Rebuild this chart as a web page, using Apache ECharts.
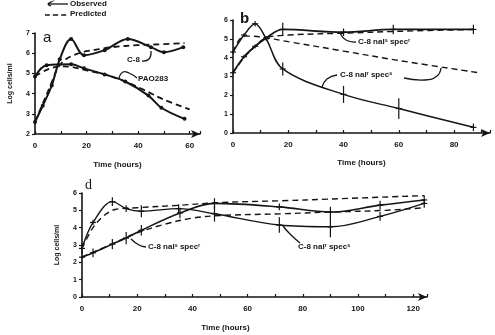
<!DOCTYPE html>
<html lang="en">
<head>
<meta charset="UTF-8">
<title>Log cells/ml vs time</title>
<script src="https://cdn.jsdelivr.net/npm/echarts@6/dist/echarts.min.js"></script>
<style>body{margin:0;background:#fff}</style>
</head>
<body>
<div id="main" style="width:495px;height:335px;"></div>
<script>
// panel a - C-8 and PAO283
const aC8ObsT = [0, 3, 6.5, 9.6, 14, 19, 27, 36, 45, 50, 57.5];
const aC8ObsV = [2.6, 3.4, 4.4, 5.7, 6.7, 5.9, 6.15, 6.7, 6.3, 6.05, 6.3];
const aC8PredT = [0, 3, 6, 9, 12, 16, 20, 25, 30, 40, 50, 58];
const aC8PredV = [2.6, 3.5, 4.4, 5.3, 5.7, 5.95, 6.1, 6.2, 6.3, 6.4, 6.45, 6.5];
const aPaoObsT = [0, 4.5, 14, 19, 27, 35, 44, 49, 58];
const aPaoObsV = [4.85, 5.4, 5.45, 5.25, 4.95, 4.6, 3.9, 3.3, 2.75];
const aPaoPredT = [0, 5, 10, 15, 20, 27, 35, 42, 50, 60];
const aPaoPredV = [4.85, 5.2, 5.35, 5.3, 5.15, 4.95, 4.6, 4.2, 3.7, 3.22];

// panel b - C-8 nal^r spec^s and nal^s spec^r
const bRsObsT = [0, 4, 8, 12, 18, 40, 60, 87];
const bRsObsV = [4.3, 5.2, 5.8, 5.0, 3.4, 2.05, 1.3, 0.3];
const bRsErr = [0.1, 0.1, 0.15, 0.1, 0.35, 0.45, 0.55, 0.2];
const bRsPredT = [0, 4, 10, 20, 40, 60, 89];
const bRsPredV = [4.3, 5.15, 5.1, 4.85, 4.35, 3.85, 3.2];
const bSrObsT = [0, 4, 8, 12, 18, 40, 58, 87];
const bSrObsV = [3.2, 4.05, 4.6, 5.05, 5.5, 5.35, 5.5, 5.5];
const bSrErr = [0.1, 0.1, 0.1, 0.1, 0.35, 0.2, 0.25, 0.25];
const bSrPredT = [0, 4, 8, 12, 20, 40, 60, 88];
const bSrPredV = [3.2, 4.0, 4.6, 5.05, 5.2, 5.3, 5.4, 5.5];

// panel d
const dRsObsT = [0, 4, 11, 16, 21.5, 35, 48, 71.5, 90, 108, 124];
const dRsObsV = [2.8, 4.3, 5.5, 5.1, 4.95, 5.1, 4.8, 4.15, 4.05, 4.65, 5.4];
const dRsErr = [0.3, 0.15, 0.25, 0.2, 0.35, 0.25, 0.45, 0.45, 0.6, 0.25, 0.25];
const dRsPredT = [0, 4, 8, 12, 20, 36, 50, 72, 90, 124];
const dRsPredV = [2.8, 4.0, 4.7, 5.05, 5.15, 5.3, 5.45, 5.55, 5.65, 5.85];
const dSrObsT = [0, 4, 11, 16, 21.5, 35.5, 48, 71.5, 90, 108, 124];
const dSrObsV = [2.3, 2.55, 3.05, 3.4, 3.85, 4.85, 5.4, 5.2, 4.9, 5.3, 5.6];
const dSrErr = [0.1, 0.25, 0.3, 0.35, 0.3, 0.3, 0.3, 0.2, 0.3, 0.25, 0.25];
const dSrPredT = [0, 10, 20, 30, 40, 50, 72, 90, 110, 124];
const dSrPredV = [2.3, 3.0, 3.7, 4.2, 4.55, 4.7, 4.8, 4.9, 5.0, 5.15];

const ink = '#151515';
const font = 'Liberation Sans';

function pts(t, v) { return t.map((x, i) => [x, v[i]]); }

function curve(t, v, idx, dashed, width, symbol) {
    return {
        type: 'line', name: dashed ? 'Predicted' : 'Observed',
        xAxisIndex: idx, yAxisIndex: idx,
        data: pts(t, v), smooth: 0.35,
        symbol: symbol || 'none', symbolSize: 4,
        itemStyle: { color: ink },
        lineStyle: { color: ink, width: width, type: dashed ? [6, 4] : 'solid' },
        z: dashed ? 2 : 3
    };
}

function errBars(t, v, e, idx) {
    return {
        type: 'custom', xAxisIndex: idx, yAxisIndex: idx,
        data: t.map((x, i) => [x, v[i], e[i]]),
        renderItem: (params, api) => {
            const top = api.coord([api.value(0), api.value(1) + api.value(2)]);
            const bot = api.coord([api.value(0), api.value(1) - api.value(2)]);
            const c = api.coord([api.value(0), api.value(1)]);
            const st = { stroke: ink, lineWidth: 1.2 };
            return { type: 'group', children: [
                { type: 'line', shape: { x1: top[0], y1: top[1], x2: bot[0], y2: bot[1] }, style: st },
                { type: 'line', shape: { x1: c[0] - 3, y1: c[1], x2: c[0] + 3, y2: c[1] }, style: st }
            ] };
        },
        z: 4
    };
}

function xAx(idx, max, nameGap, namePad) {
    return {
        type: 'value', gridIndex: idx, min: 0, max: max, interval: 10,
        name: 'Time (hours)', nameLocation: 'middle', nameGap: nameGap,
        nameTextStyle: { fontSize: 8, fontWeight: 'bold', color: ink, fontFamily: font, padding: namePad || 0 },
        axisLine: { lineStyle: { color: ink, width: 1.6 }, symbol: ['none', 'arrow'], symbolSize: [6, 9] },
        axisTick: { inside: true, length: 3, lineStyle: { color: ink, width: 1.2 } },
        axisLabel: { fontSize: 8, fontWeight: 'bold', color: ink, fontFamily: font, margin: 8,
            formatter: v => (v % 20 === 0 ? String(v) : '') },
        splitLine: { show: false }
    };
}

function yAx(idx, min, max, named) {
    return {
        type: 'value', gridIndex: idx, min: min, max: max, interval: 1,
        name: named ? 'Log cells/ml' : '', nameLocation: 'middle', nameGap: 21, nameRotate: 90,
        nameTextStyle: { fontSize: 7, fontWeight: 'bold', color: ink, fontFamily: font },
        axisLine: { lineStyle: { color: ink, width: 1.6 } },
        axisTick: { length: 3, lineStyle: { color: ink, width: 1.2 } },
        axisLabel: { fontSize: 7, fontWeight: 'bold', color: ink, fontFamily: font, margin: 5 },
        splitLine: { show: false }
    };
}

function txt(x, y, s, size, extra) {
    return { type: 'text', left: x, top: y,
        style: Object.assign({ text: s, fontSize: size || 8, fontWeight: 'bold', fill: ink, fontFamily: font }, extra || {}) };
}
function path(points, dashed) {
    return { type: 'polyline', shape: { points: points, smooth: 0.5 },
        style: { stroke: ink, lineWidth: 1.3, fill: null, lineDash: dashed ? [5, 3] : null } };
}

const option = {
    animation: false,
    backgroundColor: '#fff',
    grid: [
        { left: 35, top: 33, width: 165, height: 101 },
        { left: 233, top: 20, width: 257, height: 113 },
        { left: 82, top: 193, width: 345, height: 104 }
    ],
    xAxis: [xAx(0, 64, 27), xAx(1, 93, 26), xAx(2, 125, 27, [0, 58, 0, 0])],
    yAxis: [yAx(0, 2, 7, true), yAx(1, 0, 6, false), yAx(2, 0, 6, true)],
    series: [
        curve(aC8ObsT, aC8ObsV, 0, false, 2, 'circle'),
        curve(aC8PredT, aC8PredV, 0, true, 1.8),
        curve(aPaoObsT, aPaoObsV, 0, false, 2, 'circle'),
        curve(aPaoPredT, aPaoPredV, 0, true, 1.8),
        curve(bRsObsT, bRsObsV, 1, false, 1.5),
        curve(bRsPredT, bRsPredV, 1, true, 1.4),
        curve(bSrObsT, bSrObsV, 1, false, 1.8),
        curve(bSrPredT, bSrPredV, 1, true, 1.4),
        errBars(bRsObsT, bRsObsV, bRsErr, 1),
        errBars(bSrObsT, bSrObsV, bSrErr, 1),
        curve(dRsObsT, dRsObsV, 2, false, 1.4),
        curve(dRsPredT, dRsPredV, 2, true, 1.4),
        curve(dSrObsT, dSrObsV, 2, false, 1.6),
        curve(dSrPredT, dSrPredV, 2, true, 1.4),
        errBars(dRsObsT, dRsObsV, dRsErr, 2),
        errBars(dSrObsT, dSrObsV, dSrErr, 2)
    ],
    graphic: [
        // legend
        path([[48, 4], [68, 4]]),
        path([[48, 4], [51, 2], [48, 4], [51, 6]]),
        txt(70, 0, 'Observed', 8),
        path([[45, 15], [68, 15]], true),
        txt(70, 10, 'Predicted', 8),
        // panel letters
        txt(43, 30, 'a', 15, { fontWeight: 'normal' }),
        txt(240, 11, 'b', 15, { fontWeight: 'bold' }),
        txt(85, 178, 'd', 14, { fontWeight: 'normal', fontFamily: 'Liberation Serif' }),
        // annotations panel a
        txt(127, 56, 'C-8', 8),
        path([[142, 61], [149, 59], [151, 51]]),
        txt(138, 75, 'PAO283', 8),
        path([[119, 78], [123, 72], [129, 73], [137, 78]]),
        // annotations panel b
        txt(358, 38, 'C-8 nalˢ specʳ', 8),
        path([[356, 42], [346, 40], [340, 33]]),
        txt(340, 71, 'C-8 nalʳ specˢ', 8),
        path([[337, 75], [327, 79], [322, 87]]),
        path([[404, 78], [425, 80], [437, 76], [441, 68]]),
        // annotations panel d
        txt(148, 243, 'C-8 nalˢ specʳ', 8),
        path([[146, 247], [139, 245], [131, 239]]),
        txt(298, 243, 'C-8 nalʳ specˢ', 8),
        path([[300, 243], [290, 234], [283, 226]])
    ]
};

const chart = echarts.init(document.getElementById('main'));
chart.setOption(option);
</script>
</body>
</html>
